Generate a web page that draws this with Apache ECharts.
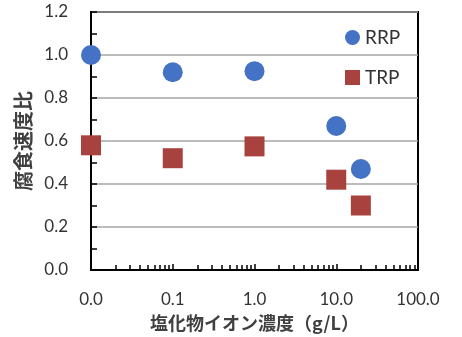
<!DOCTYPE html>
<html><head><meta charset="utf-8">
<script src="https://cdn.jsdelivr.net/npm/echarts@6/dist/echarts.min.js"></script>
<style>html,body{margin:0;padding:0;background:#fff}#c{width:462px;height:337px}</style>
</head><body><div id="c"></div>
<script>
const concentrations = [0.01, 0.1, 1, 10, 20];
const rrpValues = [1.0, 0.92, 0.925, 0.67, 0.47];
const trpValues = [0.58, 0.52, 0.575, 0.42, 0.30];
const seriesNames = ['RRP', 'TRP'];
const xAxisTitle = '塩化物イオン濃度（g/L）';
const yAxisTitle = '腐食速度比';

const chart = echarts.init(document.getElementById('c'), null, {renderer: 'canvas'});
const numFont = 'Lato, "Open Sans", sans-serif';
const cjkFont = '"Noto Sans CJK JP", sans-serif';
chart.setOption({
  animation: false,
  grid: {left: 91, right: 44, top: 12, bottom: 65, show: true, borderColor: '#000', borderWidth: 2, backgroundColor: 'transparent'},
  legend: {
    orient: 'vertical', left: 340, top: 23, itemGap: 21, itemWidth: 15, itemHeight: 15,
    textStyle: {fontFamily: numFont, fontSize: 19, color: '#333'},
    data: [{name: seriesNames[0], icon: 'circle'}, {name: seriesNames[1], icon: 'rect'}]
  },
  xAxis: {
    type: 'log', logBase: 10, min: 0.01, max: 100,
    axisLine: {lineStyle: {color: '#000', width: 2}},
    axisTick: {inside: true, length: 6, lineStyle: {color: '#000', width: 1.5}},
    minorTick: {show: true, splitNumber: 9, length: 5, lineStyle: {color: '#000', width: 1.5}},
    splitLine: {show: false},
    axisLabel: {margin: 21, fontFamily: numFont, fontSize: 17, color: '#333', formatter: v => Number(v).toFixed(1)},
    name: xAxisTitle, nameLocation: 'middle', nameGap: 44,
    nameTextStyle: {fontFamily: cjkFont, fontSize: 18, fontWeight: 'bold', color: '#404040'}
  },
  yAxis: {
    type: 'value', min: 0, max: 1.2, interval: 0.2,
    axisLine: {lineStyle: {color: '#000', width: 2}},
    axisTick: {inside: true, length: 6, lineStyle: {color: '#000', width: 1.5}},
    minorTick: {show: true, splitNumber: 2, length: 6, lineStyle: {color: '#000', width: 1.5}},
    splitLine: {lineStyle: {color: '#a6a6a6', width: 1.5}},
    axisLabel: {margin: 23, fontFamily: numFont, fontSize: 17, color: '#333', formatter: v => v.toFixed(1)},
    name: yAxisTitle, nameLocation: 'middle', nameGap: 52, nameRotate: 90,
    nameTextStyle: {fontFamily: cjkFont, fontSize: 20, fontWeight: 'bold', color: '#404040'}
  },
  series: [
    {name: seriesNames[0], type: 'scatter', symbol: 'circle', symbolSize: 20,
     itemStyle: {color: '#4472C4', opacity: 1}, data: concentrations.map((c, i) => [c, rrpValues[i]])},
    {name: seriesNames[1], type: 'scatter', symbol: 'rect', symbolSize: 20,
     itemStyle: {color: '#A8423F', opacity: 1}, data: concentrations.map((c, i) => [c, trpValues[i]])}
  ]
});
</script></body></html>
